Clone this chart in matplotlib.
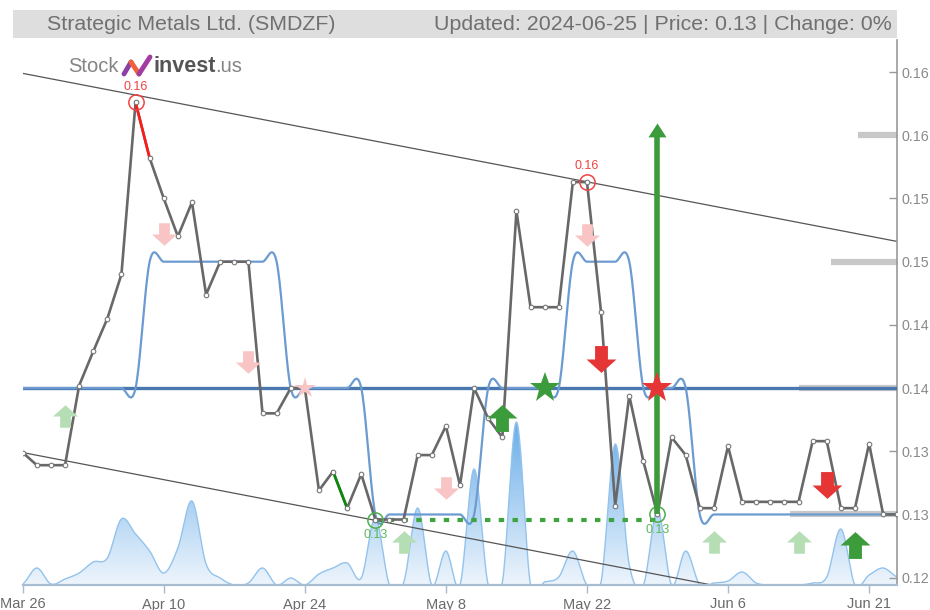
import numpy as np
import matplotlib
matplotlib.use("Agg")
import matplotlib.pyplot as plt
from matplotlib.path import Path
from matplotlib.patches import Polygon, Rectangle
from matplotlib.colors import LinearSegmentedColormap

plt.rcParams['font.family'] = ['Liberation Sans', 'DejaVu Sans']

# ---- data (one point per trading day) ----
prices = [0.1349, 0.1339, 0.1339, 0.1339, 0.1402, 0.1429, 0.1455, 0.1490, 0.1626, 0.1582,
          0.1550, 0.1520, 0.1547, 0.1474, 0.1500, 0.1500, 0.1500, 0.1380, 0.1380, 0.1400,
          0.1400, 0.1319, 0.1334, 0.1305, 0.1332, 0.1296, 0.1296, 0.1296, 0.1347, 0.1347,
          0.1370, 0.1323, 0.1400, 0.1376, 0.1361, 0.1540, 0.1464, 0.1464, 0.1464, 0.1563,
          0.1563, 0.1460, 0.1307, 0.1394, 0.1342, 0.1300, 0.1361, 0.1347, 0.1305, 0.1305,
          0.1354, 0.1310, 0.1310, 0.1310, 0.1310, 0.1310, 0.1358, 0.1358, 0.1305, 0.1305,
          0.1356, 0.1300, 0.1300]

# stepped support / resistance line (smoothed when drawn)
levels = [0.14] * 9 + [0.15] * 10 + [0.14] * 6 + [0.13] * 8 + [0.14] * 6 + \
         [0.15] * 5 + [0.14] * 4 + [0.13] * 15

volume = [1, 17, 1, 6, 12, 23, 27, 66, 51, 34, 12, 37, 84, 21, 7, 0, 2, 17, 0, 7,
          0, 11, 17, 22, 7, 67, 0, 2, 77, 0, 34, 0, 116, 0, 2, 163, 0, 3, 8, 34,
          0, 3, 141, 20, 0, 75, 0, 34, 0, 2, 4, 13, 2, 0, 0, 0, 2, 8, 56, 0,
          10, 17, 8]

tick_idx = [0, 10, 20, 30, 40, 50, 60]
tick_labels = ["Mar 26", "Apr 10", "Apr 24", "May 8", "May 22", "Jun 6", "Jun 21"]
price_ticks = [0.125, 0.13, 0.135, 0.14, 0.145, 0.15, 0.155, 0.16, 0.165]
# the chart only shows the first four characters of each price label
price_tick_labels = ["0.12", "0.13", "0.13", "0.14", "0.14", "0.15", "0.15", "0.16", "0.16"]

# trend channel (value at first and last day)
upper_trend = [0.1649, 0.1516]
lower_trend = [0.1349, 0.1216]
main_level = 0.14

# horizontal levels on the right edge
right_levels = [0.16, 0.15, 0.14, 0.13]
right_level_start = [59.2, 57.3, 55.0, 54.4]

high_idx = [8, 40]
low_idx = [25, 45]
target_idx = 45
target_val = 0.1610

up_pale_idx, up_pale_val = [3, 27, 49, 55], [0.1378, 0.1278, 0.1278, 0.1278]
down_pale_idx, down_pale_val = [10, 16, 30, 40], [0.1522, 0.1421, 0.1321, 0.1521]
up_idx, up_val = [34, 59], [0.1376, 0.1276]
down_idx, down_val = [41, 57], [0.1423, 0.1323]
star_buy_idx, star_buy_val = [37], [0.14]
star_sell_idx, star_sell_val = [45], [0.14]
star_pale_idx, star_pale_val = [20], [0.14]

title_left = "Strategic Metals Ltd. (SMDZF)"
title_right = "Updated: 2024-06-25 | Price: 0.13 | Change: 0%"


def catmull(vals, n=20):
    v = np.asarray(vals, float)
    p = np.concatenate([[v[0]], v, [v[-1]]])
    t = np.linspace(0, 1, n, endpoint=False)
    xs, ys = [], []
    for i in range(len(v) - 1):
        p0, p1, p2, p3 = p[i:i + 4]
        m1, m2 = (p2 - p0) / 2, (p3 - p1) / 2
        h00 = 2 * t**3 - 3 * t**2 + 1
        h10 = t**3 - 2 * t**2 + t
        h01 = -2 * t**3 + 3 * t**2
        h11 = t**3 - t**2
        ys.append(h00 * p1 + h10 * m1 + h01 * p2 + h11 * m2)
        xs.append(i + t)
    xs.append([len(v) - 1])
    ys.append([v[-1]])
    return np.concatenate(xs), np.concatenate(ys)


def block_arrow(up=True):
    verts = [(0, 0.9), (1, 0), (0.43, 0), (0.43, -0.9), (-0.43, -0.9), (-0.43, 0), (-1, 0), (0, 0.9)]
    if not up:
        verts = [(x, -y) for x, y in verts]
    return Path(verts, closed=True)


W, H = 930, 610
fig = plt.figure(figsize=(W / 100, H / 100), dpi=100)
rect = [22.7 / W, 25 / H, (897.3 - 22.7) / W, 545 / H]
x = np.arange(len(prices))
n = len(prices) - 1
ylo, yhi = 0.12442, 0.16754

# volume axes underneath
axv = fig.add_axes(rect, zorder=0)
axv.set_xlim(0, n)
axv.set_ylim(0, 545)
axv.axis('off')
vx, vy = catmull(volume)
vy = np.clip(vy, 0, None)
verts = np.column_stack([np.r_[vx, vx[::-1]], np.r_[vy, np.zeros_like(vy)]])
poly = Polygon(verts, closed=True, facecolor='none', edgecolor='none')
axv.add_patch(poly)
cmap = LinearSegmentedColormap.from_list('vol', ['#eef5fc', '#6aaee9'])
grad = np.linspace(0, 1, 256).reshape(-1, 1)
img = axv.imshow(grad, extent=[0, n, 0, max(volume)], origin='lower', aspect='auto', cmap=cmap)
img.set_clip_path(poly)
axv.plot(vx, vy, color='#93c3ec', lw=1.0)

# main price axes
ax = fig.add_axes(rect, zorder=1)
ax.patch.set_alpha(0)
ax.set_xlim(0, n)
ax.set_ylim(ylo, yhi)

ax.plot([0, n], upper_trend, color='#555555', lw=0.9, zorder=2)
ax.plot([0, n], lower_trend, color='#555555', lw=0.9, zorder=2)

for lv, st in zip(right_levels, right_level_start):
    ax.plot([st, n], [lv, lv], color='#c8c8c8', lw=4.5, solid_capstyle='butt', zorder=2)

ax.axhline(main_level, color='#4a78ae', lw=2.4, zorder=3)

sx, sy = catmull(levels)
ax.plot(sx, sy, color='#6b9bd1', lw=1.6, zorder=3)

# green dotted line between the two lows
ax.plot([low_idx[0], low_idx[1]], [prices[low_idx[0]]] * 2, color='#3fa33f', lw=3,
        dashes=(1.3, 2.0), zorder=4)

ax.plot(x, prices, color='#686868', lw=1.9, zorder=5)
ax.plot(x[8:10], prices[8:10], color='#ff1a1a', lw=1.9, zorder=5)
ax.plot(x[22:24], prices[22:24], color='#0a8a0a', lw=1.9, zorder=5)
ax.plot(x, prices, ls='none', marker='o', ms=3.3, mfc='white', mec='#777777', mew=0.8, zorder=6)

for i in high_idx:
    ax.plot(i, prices[i], marker='o', ms=11, mfc='none', mec='#ee4444', mew=1.1, zorder=7)
    ax.annotate("%.2f" % prices[i], (i, prices[i]), xytext=(0, 7), textcoords='offset points',
                ha='center', va='bottom', color='#ee4444', fontsize=9, zorder=7)
for i in low_idx:
    ax.plot(i, prices[i], marker='o', ms=11, mfc='none', mec='#4cae4c', mew=1.1, zorder=7)
    ax.annotate("%.2f" % prices[i], (i, prices[i]), xytext=(0, -7), textcoords='offset points',
                ha='center', va='top', color='#5cb85c', fontsize=9, zorder=7)

# big target arrow
ax.plot([target_idx, target_idx], [prices[target_idx], target_val - 0.0008], color='#3c9c3c',
        lw=4, solid_capstyle='butt', zorder=8)
head = Path([(0, 0), (0.65, -1), (-0.65, -1), (0, 0)], closed=True)
ax.plot(target_idx, target_val, marker=head, ms=20, color='#3c9c3c', mew=0, zorder=8)

ax.plot(up_pale_idx, up_pale_val, ls='none', marker=block_arrow(True), ms=18,
        color='#b5deb5', mew=0, zorder=8)
ax.plot(down_pale_idx, down_pale_val, ls='none', marker=block_arrow(False), ms=18,
        color='#f8c4c4', mew=0, zorder=8)
ax.plot(up_idx, up_val, ls='none', marker=block_arrow(True), ms=21.5,
        color='#3c9c3c', mew=0, zorder=8)
ax.plot(down_idx, down_val, ls='none', marker=block_arrow(False), ms=21.5,
        color='#e53535', mew=0, zorder=8)
ax.plot(star_buy_idx, star_buy_val, ls='none', marker='*', ms=23, color='#3c9c3c', mew=0, zorder=8)
ax.plot(star_sell_idx, star_sell_val, ls='none', marker='*', ms=23, color='#e53535', mew=0, zorder=8)
ax.plot(star_pale_idx, star_pale_val, ls='none', marker='*', ms=16, color='#f8c4c4', mew=0, zorder=8)

# axes styling
for s in ['top', 'left']:
    ax.spines[s].set_visible(False)
ax.spines['right'].set_color('#999999')
ax.spines['right'].set_linewidth(1.2)
ax.spines['bottom'].set_color('#a8bcd2')
ax.spines['bottom'].set_linewidth(1.6)
ax.yaxis.tick_right()
ax.set_yticks(price_ticks)
ax.set_yticklabels(price_tick_labels)
ax.tick_params(axis='y', direction='in', length=6, width=1, color='#999999',
               labelcolor='#8a8a8a', labelsize=10.3, pad=3)
ax.set_xticks(tick_idx)
ax.set_xticklabels(tick_labels)
ax.tick_params(axis='x', direction='out', length=6, width=1, color='#a8bcd2',
               labelcolor='#6a6a6a', labelsize=10.5, pad=3)

# title bar
fig.patches.append(Rectangle((13 / W, 1 - 38 / H), (897 - 13) / W, 28 / H,
                             transform=fig.transFigure, facecolor='#dedede', edgecolor='none'))
fig.text(47 / W, 1 - 24 / H, title_left, ha='left', va='center', color='#707070', fontsize=15.4)
fig.text(892 / W, 1 - 24 / H, title_right, ha='right', va='center', color='#707070', fontsize=15.4)

# logo
fig.text(68 / W, 1 - 67 / H, "Stock", ha='left', va='center', color='#858585', fontsize=14.5)
lx = np.array([124, 131, 139, 150]) / W
ly = 1 - np.array([74, 62, 74, 57]) / H
logo_cols = ['#8e3fa6', '#f0603a', '#a23ca0']
for k in range(3):
    fig.add_artist(plt.Line2D(lx[k:k + 2], ly[k:k + 2], color=logo_cols[k], lw=3.5,
                              solid_capstyle='round', transform=fig.transFigure))
t_inv = fig.text(153 / W, 1 - 67 / H, "invest", ha='left', va='center', color='#555555',
                 fontsize=15.5, fontweight='bold')
renderer = fig.canvas.get_renderer()
bb = t_inv.get_window_extent(renderer)
fig.text(bb.x1 / W, 1 - 67 / H, ".us", ha='left', va='center', color='#858585', fontsize=14.5)

fig.savefig("out.png", dpi=100)
